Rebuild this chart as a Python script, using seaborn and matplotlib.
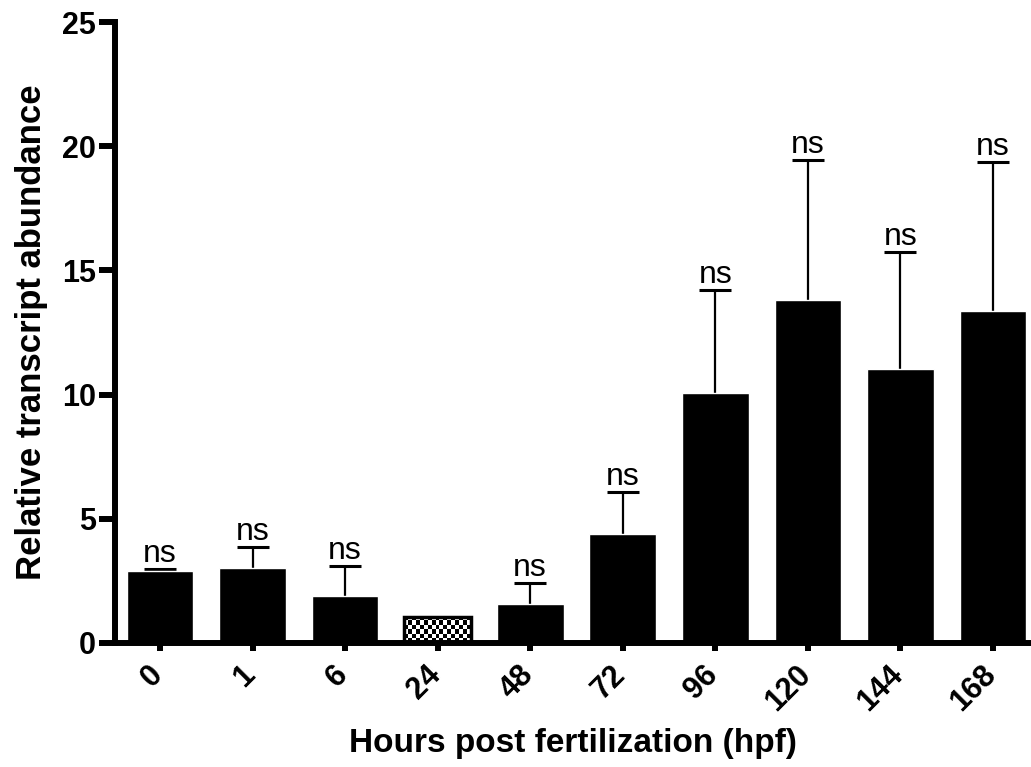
import numpy as np
import matplotlib
matplotlib.use("Agg")
import matplotlib.pyplot as plt
import matplotlib.transforms as mtransforms
import seaborn as sns

# data
hpf = ['0', '1', '6', '24', '48', '72', '96', '120', '144', '168']
mean_abund = [2.88, 3.0, 1.88, 1.05, 1.58, 4.4, 10.05, 13.8, 11.05, 13.35]
sd_abund = [0.11, 0.87, 1.2, 0.0, 0.85, 1.68, 4.15, 5.65, 4.7, 6.0]
sig = ['ns', 'ns', 'ns', '', 'ns', 'ns', 'ns', 'ns', 'ns', 'ns']
ref_idx = 3  # calibrator group (24 hpf), drawn with checker fill

SPINE_W = 4.3
LABEL_FONT = 'Liberation Sans'

sns.set_style('ticks')
plt.rcParams['font.family'] = [LABEL_FONT, 'DejaVu Sans']
for key in ['text.color', 'axes.labelcolor', 'xtick.color', 'ytick.color']:
    plt.rcParams[key] = 'black'

fig = plt.figure(figsize=(10.31, 7.67), dpi=100)
ax = fig.add_axes([0.1115, 0.1617, 0.8885, 0.8095])

sns.barplot(x=hpf, y=mean_abund, color='black', saturation=1, width=0.72,
            ax=ax, zorder=2)

# upper-only error bars
x = np.arange(len(hpf))
err = np.array(sd_abund)
mask = err > 0
eb = ax.errorbar(x[mask], np.array(mean_abund)[mask],
                 yerr=[np.zeros(mask.sum()), err[mask]],
                 fmt='none', ecolor='black', elinewidth=1.6, capsize=11.5,
                 capthick=2.2, zorder=1)
eb[1][0].remove()  # drop the lower caps sitting on the bar tops

# checkered bar for the reference time point
bar = ax.patches[ref_idx]
bar.set_facecolor('none')
bar.set_edgecolor('black')
bar.set_linewidth(2.5)
bar.set_zorder(3)
checks = (np.indices((6, 17)).sum(axis=0) % 2).astype(float)
im = ax.imshow(checks, cmap='gray', interpolation='nearest', aspect='auto',
               extent=(bar.get_x(), bar.get_x() + bar.get_width(), 0, bar.get_height()),
               zorder=2.5)
im.set_clip_path(bar)

# significance labels
for xi, m, e, s in zip(x, mean_abund, sd_abund, sig):
    if s:
        ax.text(xi, m + e, s, ha='center', va='bottom', fontsize=23,
                family=[LABEL_FONT, 'DejaVu Sans'])

ax.set_xlim(-0.486, 9.41)
ax.set_ylim(0, 25)
ax.set_yticks([0, 5, 10, 15, 20, 25])

sns.despine(ax=ax, top=True, right=True)
for side in ['left', 'bottom']:
    ax.spines[side].set_linewidth(SPINE_W)
    ax.spines[side].set_color('black')

ax.tick_params(axis='y', length=11.5, width=SPINE_W, pad=2, labelsize=22)
ax.tick_params(axis='x', length=5.8, width=SPINE_W, pad=6, labelsize=22)
for lab in ax.get_yticklabels():
    lab.set_fontweight('bold')

offset = mtransforms.ScaledTranslation(9 / 100, 0, fig.dpi_scale_trans)
for lab in ax.get_xticklabels():
    lab.set_rotation(45)
    lab.set_ha('right')
    lab.set_va('top')
    lab.set_fontweight('bold')
    lab.set_transform(lab.get_transform() + offset)

ax.set_xlabel('Hours post fertilization (hpf)', fontsize=24, fontweight='bold', labelpad=8)
ax.set_ylabel('Relative transcript abundance', fontsize=25, fontweight='bold', labelpad=10)

fig.savefig('out.png', dpi=100)
